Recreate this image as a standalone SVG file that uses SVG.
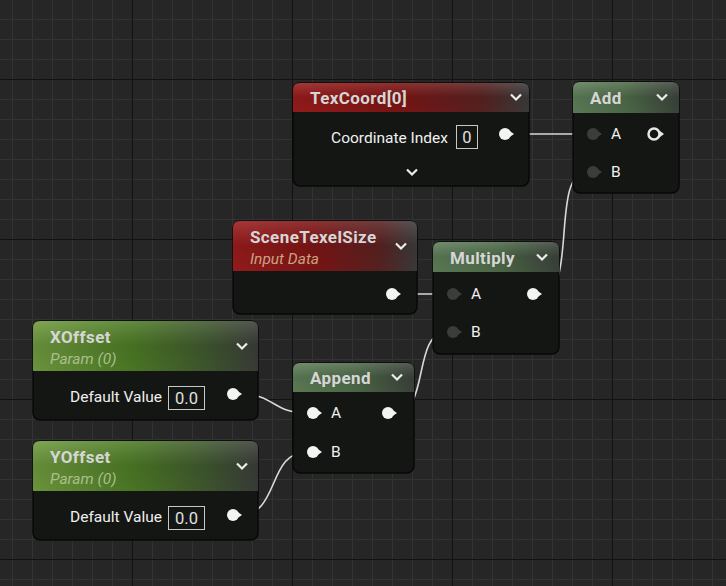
<svg xmlns="http://www.w3.org/2000/svg" width="726" height="586" viewBox="0 0 726 586">
<defs>
<pattern id="minor" patternUnits="userSpaceOnUse" x="12" y="19" width="20" height="20">
<rect x="0" y="0" width="20" height="20" fill="#262626"/>
<rect x="0" y="0" width="1" height="20" fill="#333333"/>
<rect x="0" y="0" width="20" height="1" fill="#333333"/>
</pattern>
<pattern id="major" patternUnits="userSpaceOnUse" x="132" y="79" width="160" height="160">
<rect x="0" y="0" width="1" height="160" fill="#121212"/>
<rect x="0" y="0" width="160" height="1" fill="#121212"/>
</pattern>
<linearGradient id="gRed" x1="0" y1="0" x2="1" y2="0">
<stop offset="0" stop-color="#9a1c1c"/>
<stop offset="0.45" stop-color="#7e1515"/>
<stop offset="0.8" stop-color="#5a2222"/>
<stop offset="1" stop-color="#3c3c3c"/>
</linearGradient>
<linearGradient id="gGreen" x1="0" y1="0" x2="1" y2="0">
<stop offset="0" stop-color="#6f9a3e"/>
<stop offset="0.45" stop-color="#4c7a25"/>
<stop offset="0.8" stop-color="#3f5530"/>
<stop offset="1" stop-color="#3a3d38"/>
</linearGradient>
<linearGradient id="gOp" x1="0" y1="0" x2="1" y2="0">
<stop offset="0" stop-color="#5f7f59"/>
<stop offset="0.5" stop-color="#4f6c4a"/>
<stop offset="1" stop-color="#3c443b"/>
</linearGradient>
<linearGradient id="shine" x1="0" y1="0" x2="0" y2="1">
<stop offset="0" stop-color="#ffffff" stop-opacity="0.12"/>
<stop offset="0.5" stop-color="#000000" stop-opacity="0.1"/>
<stop offset="1" stop-color="#000000" stop-opacity="0.05"/>
</linearGradient>
<g id="pinOn">
<circle cx="0" cy="0" r="6" fill="#f4f4f4"/>
<path d="M4,-3.5 L9,0 L4,3.5 Z" fill="#f4f4f4"/>
</g>
<g id="pinOff">
<circle cx="0" cy="0" r="6" fill="#3c3c3c"/>
<path d="M4,-3.5 L9,0 L4,3.5 Z" fill="#3c3c3c"/>
</g>
<g id="pinRing">
<circle cx="0" cy="0" r="5.5" fill="none" stroke="#e8e8e8" stroke-width="2.5"/>
<path d="M6,-3 L10,0 L6,3 Z" fill="#e8e8e8"/>
</g>
<path id="chev" d="M-5,-2.5 L0,2.5 L5,-2.5" fill="none" stroke="#ececec" stroke-width="2.2"/>
</defs>
<style>
.body{fill:#141614;stroke:#080808;stroke-width:1.5}
.title{font-family:Roboto,"Liberation Sans",sans-serif;font-weight:bold;font-size:17px;letter-spacing:0.4px;fill:#d6d6d6}
.sub{font-family:Roboto,"Liberation Sans",sans-serif;font-style:italic;font-size:15.5px}
.lbl{font-family:Roboto,"Liberation Sans",sans-serif;font-size:15.5px;fill:#f0f0f0}
.box{fill:none;stroke:#c8c8c8;stroke-width:1}
.val{font-family:Roboto,"Liberation Sans",sans-serif;font-size:16.5px;fill:#e0e0e0}
.wire{fill:none;stroke:#d8d8d8;stroke-width:1.6}
</style>
<rect x="0" y="0" width="726" height="586" fill="url(#minor)"/>
<rect x="0" y="0" width="726" height="586" fill="url(#major)"/>

<g id="connectors">
<path class="wire" d="M513,134 L587,134" stroke="#f0f0f0"/>
<path class="wire" d="M541,294 C578,294 550,172 587,172"/>
<path class="wire" d="M400,294 L447,294"/>
<path class="wire" d="M395,413 C430,413 412,332 447,332"/>
<path class="wire" d="M240,394 C275,394 272,413 307,413"/>
<path class="wire" d="M240,515 C280,515 267,452 307,452"/>
</g>

<g id="TexCoord">
<rect class="body" x="293" y="83" width="236" height="103" rx="7"/>
<path d="M293,112 L293,90 Q293,83 300,83 L522,83 Q529,83 529,90 L529,112 Z" fill="url(#gRed)"/>
<path d="M293,112 L293,90 Q293,83 300,83 L522,83 Q529,83 529,90 L529,112 Z" fill="url(#shine)"/>
<text class="title" x="310" y="104">TexCoord[0]</text>
<use href="#chev" x="516" y="97"/>
<text class="lbl" x="448" y="143" text-anchor="end">Coordinate Index</text>
<rect class="box" x="456.5" y="125.5" width="21" height="23"/>
<text class="val" x="467" y="143" text-anchor="middle">0</text>
<use href="#pinOn" x="505" y="134"/>
<use href="#chev" x="412" y="172"/>
</g>

<g id="Add">
<rect class="body" x="573" y="82" width="106" height="111" rx="7"/>
<path d="M573,113 L573,89 Q573,82 580,82 L672,82 Q679,82 679,89 L679,113 Z" fill="url(#gOp)"/>
<path d="M573,113 L573,89 Q573,82 580,82 L672,82 Q679,82 679,89 L679,113 Z" fill="url(#shine)"/>
<text class="title" x="590" y="104">Add</text>
<use href="#chev" x="662" y="97"/>
<use href="#pinOff" x="593" y="134"/>
<text class="lbl" x="611" y="139">A</text>
<use href="#pinRing" x="654" y="134"/>
<use href="#pinOff" x="593" y="172"/>
<text class="lbl" x="611" y="177">B</text>
</g>

<g id="SceneTexelSize">
<rect class="body" x="233" y="221" width="184" height="93" rx="7"/>
<path d="M233,271 L233,228 Q233,221 240,221 L410,221 Q417,221 417,228 L417,271 Z" fill="url(#gRed)"/>
<path d="M233,271 L233,228 Q233,221 240,221 L410,221 Q417,221 417,228 L417,271 Z" fill="url(#shine)"/>
<text class="title" x="250" y="243">SceneTexelSize</text>
<text class="sub" x="250" y="264" fill="#c9a283">Input Data</text>
<use href="#chev" x="401" y="246"/>
<use href="#pinOn" x="392" y="294"/>
</g>

<g id="Multiply">
<rect class="body" x="433" y="242" width="126" height="112" rx="7"/>
<path d="M433,272 L433,249 Q433,242 440,242 L552,242 Q559,242 559,249 L559,272 Z" fill="url(#gOp)"/>
<path d="M433,272 L433,249 Q433,242 440,242 L552,242 Q559,242 559,249 L559,272 Z" fill="url(#shine)"/>
<text class="title" x="450" y="264">Multiply</text>
<use href="#chev" x="542" y="257"/>
<use href="#pinOff" x="453" y="294"/>
<text class="lbl" x="471" y="299">A</text>
<use href="#pinOn" x="533" y="294"/>
<use href="#pinOff" x="453" y="332"/>
<text class="lbl" x="471" y="337">B</text>
</g>

<g id="XOffset">
<rect class="body" x="33" y="321" width="225" height="99" rx="7"/>
<path d="M33,371 L33,328 Q33,321 40,321 L251,321 Q258,321 258,328 L258,371 Z" fill="url(#gGreen)"/>
<path d="M33,371 L33,328 Q33,321 40,321 L251,321 Q258,321 258,328 L258,371 Z" fill="url(#shine)"/>
<text class="title" x="50" y="343">XOffset</text>
<text class="sub" x="50" y="364" fill="#a9bf8c">Param (0)</text>
<use href="#chev" x="242" y="346"/>
<text class="lbl" x="162" y="402" text-anchor="end">Default Value</text>
<rect class="box" x="168.5" y="386.5" width="36" height="23"/>
<text class="val" x="186.5" y="404" text-anchor="middle">0.0</text>
<use href="#pinOn" x="233" y="394"/>
</g>

<g id="Append">
<rect class="body" x="293" y="363" width="121" height="110" rx="7"/>
<path d="M293,392 L293,370 Q293,363 300,363 L407,363 Q414,363 414,370 L414,392 Z" fill="url(#gOp)"/>
<path d="M293,392 L293,370 Q293,363 300,363 L407,363 Q414,363 414,370 L414,392 Z" fill="url(#shine)"/>
<text class="title" x="310" y="384">Append</text>
<use href="#chev" x="397" y="377"/>
<use href="#pinOn" x="313" y="413"/>
<text class="lbl" x="331" y="418">A</text>
<use href="#pinOn" x="388" y="413"/>
<use href="#pinOn" x="313" y="452"/>
<text class="lbl" x="331" y="457">B</text>
</g>

<g id="YOffset">
<rect class="body" x="33" y="441" width="225" height="99" rx="7"/>
<path d="M33,491 L33,448 Q33,441 40,441 L251,441 Q258,441 258,448 L258,491 Z" fill="url(#gGreen)"/>
<path d="M33,491 L33,448 Q33,441 40,441 L251,441 Q258,441 258,448 L258,491 Z" fill="url(#shine)"/>
<text class="title" x="50" y="463">YOffset</text>
<text class="sub" x="50" y="484" fill="#a9bf8c">Param (0)</text>
<use href="#chev" x="242" y="466"/>
<text class="lbl" x="162" y="522" text-anchor="end">Default Value</text>
<rect class="box" x="168.5" y="506.5" width="36" height="23"/>
<text class="val" x="186.5" y="524" text-anchor="middle">0.0</text>
<use href="#pinOn" x="233" y="515"/>
</g>
</svg>
